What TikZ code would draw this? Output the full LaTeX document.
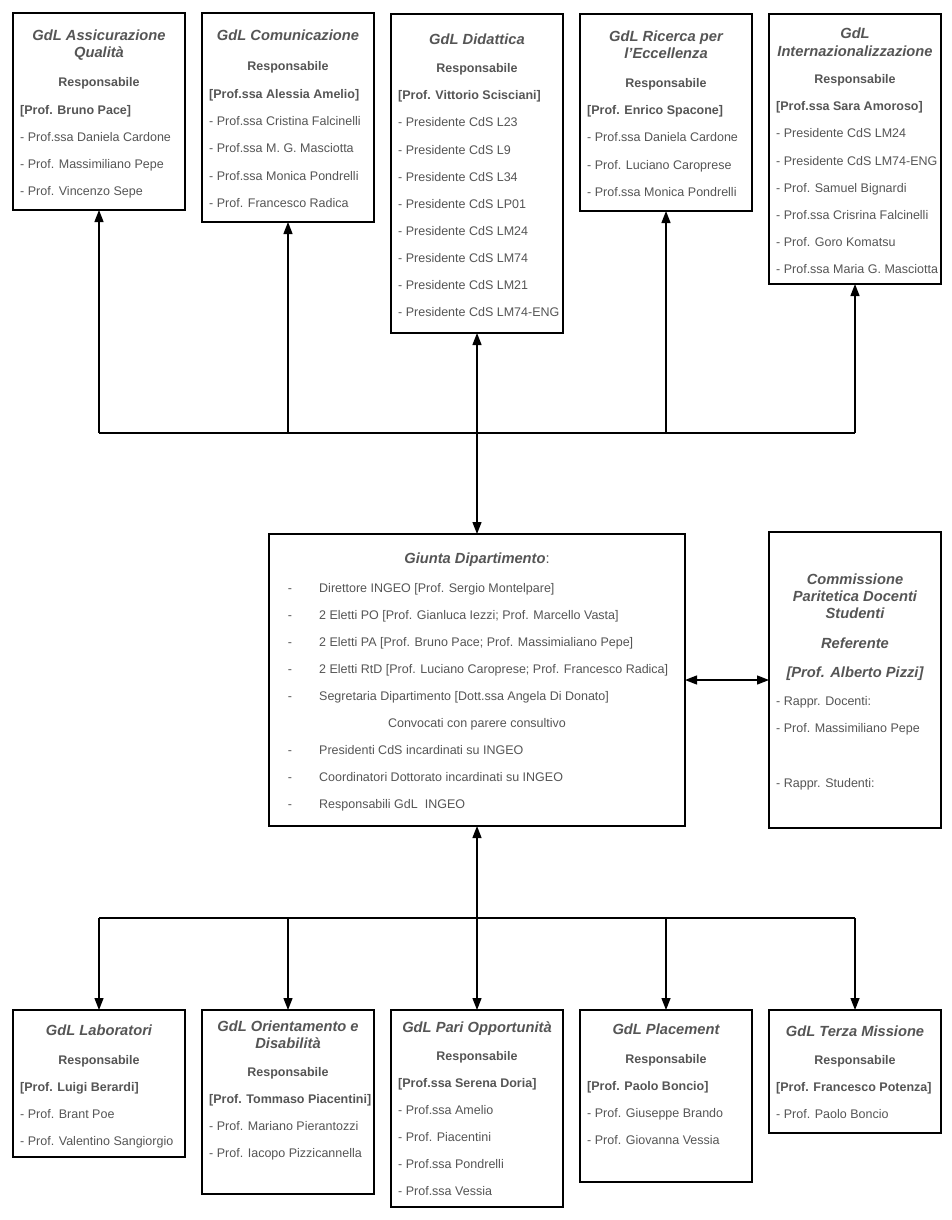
\documentclass[tikz,border=0pt]{standalone}
\usepackage{fontspec}
\setmainfont{Liberation Sans}
\usetikzlibrary{arrows.meta}
\definecolor{txt}{RGB}{85,85,85}
\newcommand\gboxat[5]{\node[gbox,minimum width={#4-#2},minimum height={#5-#3}] (#1) at ({(#2+#4)/2},{(#3+#5)/2}) {};}
\begin{document}
\begin{tikzpicture}[x=1pt,y=-1pt,
 gbox/.style={draw=black,line width=1.3pt,inner sep=0pt,outer sep=0pt},
 itm/.style={anchor=base west,inner sep=0pt,text=txt,font=\fontsize{12.5}{15}\selectfont},
 brk/.style={anchor=base west,inner sep=0pt,text=txt,font=\fontsize{12.5}{15}\selectfont\bfseries},
 rsp/.style={anchor=base,inner sep=0pt,text=txt,font=\fontsize{12.5}{15}\selectfont\bfseries},
 ttl/.style={anchor=base,inner sep=0pt,text=txt,font=\fontsize{14.7}{17}\selectfont\bfseries\itshape},
 conn/.style={line width=1.3pt,draw=black},
 arr/.style={conn,-{Triangle[length=12pt,width=9pt]}},
 darr/.style={conn,{Triangle[length=12pt,width=9pt]}-{Triangle[length=12pt,width=9pt]}},
]
\useasboundingbox (0,0) rectangle (952,1220);
\fill[white] (0,0) rectangle (952,1220);

% ---------- boxes ----------
\gboxat{b1}{13}{13}{185}{210}
\gboxat{b2}{202}{13}{374}{222}
\gboxat{b3}{391}{14}{563}{333}
\gboxat{b4}{580}{14}{752}{211}
\gboxat{b5}{769}{14}{941}{284}
\gboxat{g}{269}{534}{685}{826}
\gboxat{c}{769}{532}{941}{828}
\gboxat{l1}{13}{1010}{185}{1157}
\gboxat{l2}{202}{1010}{374}{1194}
\gboxat{l3}{391}{1010}{563}{1207}
\gboxat{l4}{580}{1010}{752}{1182}
\gboxat{l5}{769}{1010}{941}{1133}

% ---------- box 1 ----------
\node[ttl] (b1t1) at (99,41) {GdL Assicurazione};
\node[ttl] (b1t2) at (99,58) {Qualità};
\node[rsp] (b1r) at (99,87) {Responsabile};
\node[brk] (b1p) at (20,114) {[Prof. Bruno Pace]};
\node[itm] (b1i1) at (20,141) {- Prof.ssa Daniela Cardone};
\node[itm] (b1i2) at (20,168) {- Prof. Massimiliano Pepe};
\node[itm] (b1i3) at (20,195) {- Prof. Vincenzo Sepe};

% ---------- box 2 ----------
\node[ttl] (b2t1) at (288,41) {GdL Comunicazione};
\node[rsp] (b2r) at (288,71) {Responsabile};
\node[brk] (b2p) at (209,99) {[Prof.ssa Alessia Amelio]};
\node[itm] (b2i1) at (209,126) {- Prof.ssa Cristina Falcinelli};
\node[itm] (b2i2) at (209,153) {- Prof.ssa M. G. Masciotta};
\node[itm] (b2i3) at (209,180) {- Prof.ssa Monica Pondrelli};
\node[itm] (b2i4) at (209,207) {- Prof. Francesco Radica};

% ---------- box 3 ----------
\node[ttl] (b3t1) at (477,45) {GdL Didattica};
\node[rsp] (b3r) at (477,73) {Responsabile};
\node[brk] (b3p) at (398,100) {[Prof. Vittorio Scisciani]};
\node[itm] (b3i1) at (398,127) {- Presidente CdS L23};
\node[itm] (b3i2) at (398,154) {- Presidente CdS L9};
\node[itm] (b3i3) at (398,181) {- Presidente CdS L34};
\node[itm] (b3i4) at (398,208) {- Presidente CdS LP01};
\node[itm] (b3i5) at (398,235) {- Presidente CdS LM24};
\node[itm] (b3i6) at (398,262) {- Presidente CdS LM74};
\node[itm] (b3i7) at (398,289) {- Presidente CdS LM21};
\node[itm] (b3i8) at (398,316) {- Presidente CdS LM74-ENG};

% ---------- box 4 ----------
\node[ttl] (b4t1) at (666,42) {GdL Ricerca per};
\node[ttl] (b4t2) at (666,59) {l’Eccellenza};
\node[rsp] (b4r) at (666,88) {Responsabile};
\node[brk] (b4p) at (587,115) {[Prof. Enrico Spacone]};
\node[itm] (b4i1) at (587,142) {- Prof.ssa Daniela Cardone};
\node[itm] (b4i2) at (587,169) {- Prof. Luciano Caroprese};
\node[itm] (b4i3) at (587,196) {- Prof.ssa Monica Pondrelli};

% ---------- box 5 ----------
\node[ttl] (b5t1) at (855,39) {GdL};
\node[ttl] (b5t2) at (855,57) {Internazionalizzazione};
\node[rsp] (b5r) at (855,84) {Responsabile};
\node[brk] (b5p) at (776,111) {[Prof.ssa Sara Amoroso]};
\node[itm] (b5i1) at (776,138) {- Presidente CdS LM24};
\node[itm] (b5i2) at (776,165) {- Presidente CdS LM74-ENG};
\node[itm] (b5i3) at (776,192) {- Prof. Samuel Bignardi};
\node[itm] (b5i4) at (776,219) {- Prof.ssa Crisrina Falcinelli};
\node[itm] (b5i5) at (776,246) {- Prof. Goro Komatsu};
\node[itm] (b5i6) at (776,273) {- Prof.ssa Maria G. Masciotta};

% ---------- Giunta ----------
\node[anchor=base,inner sep=0pt,text=txt,font=\fontsize{14.7}{17}\selectfont] (gt) at (477,563) {\textbf{\textit{Giunta Dipartimento}}:};
\node[itm,anchor=base] (gd1) at (290,592) {-};
\node[itm] (gi1) at (319,592) {Direttore INGEO [Prof. Sergio Montelpare]};
\node[itm,anchor=base] (gd2) at (290,619) {-};
\node[itm] (gi2) at (319,619) {2 Eletti PO [Prof. Gianluca Iezzi; Prof. Marcello Vasta]};
\node[itm,anchor=base] (gd3) at (290,646) {-};
\node[itm] (gi3) at (319,646) {2 Eletti PA [Prof. Bruno Pace; Prof. Massimialiano Pepe]};
\node[itm,anchor=base] (gd4) at (290,673) {-};
\node[itm] (gi4) at (319,673) {2 Eletti RtD [Prof. Luciano Caroprese; Prof. Francesco Radica]};
\node[itm,anchor=base] (gd5) at (290,700) {-};
\node[itm] (gi5) at (319,700) {Segretaria Dipartimento [Dott.ssa Angela Di Donato]};
\node[itm,anchor=base] (gcv) at (477,727) {Convocati con parere consultivo};
\node[itm,anchor=base] (gd6) at (290,754) {-};
\node[itm] (gi6) at (319,754) {Presidenti CdS incardinati su INGEO};
\node[itm,anchor=base] (gd7) at (290,781) {-};
\node[itm] (gi7) at (319,781) {Coordinatori Dottorato incardinati su INGEO};
\node[itm,anchor=base] (gd8) at (290,808) {-};
\node[itm] (gi8) at (319,808) {Responsabili GdL\ \ INGEO};

% ---------- Commissione ----------
\node[ttl] (ct1) at (855,584) {Commissione};
\node[ttl] (ct2) at (855,601) {Paritetica Docenti};
\node[ttl] (ct3) at (855,618) {Studenti};
\node[ttl] (cr) at (855,648) {Referente};
\node[ttl] (cp) at (855,677) {[Prof. Alberto Pizzi]};
\node[itm] (ci1) at (776,705) {- Rappr. Docenti:};
\node[itm] (ci2) at (776,732) {- Prof. Massimiliano Pepe};
\node[itm] (ci3) at (776,787) {- Rappr. Studenti:};

% ---------- bottom 1 ----------
\node[ttl] (l1t1) at (99,1035) {GdL Laboratori};
\node[rsp] (l1r) at (99,1064) {Responsabile};
\node[brk] (l1p) at (20,1091) {[Prof. Luigi Berardi]};
\node[itm] (l1i1) at (20,1118) {- Prof. Brant Poe};
\node[itm] (l1i2) at (20,1145) {- Prof. Valentino Sangiorgio};

% ---------- bottom 2 ----------
\node[ttl] (l2t1) at (288,1031) {GdL Orientamento e};
\node[ttl] (l2t2) at (288,1048) {Disabilità};
\node[rsp] (l2r) at (288,1076) {Responsabile};
\node[brk] (l2p) at (209,1103) {[Prof. Tommaso Piacentini]};
\node[itm] (l2i1) at (209,1130) {- Prof. Mariano Pierantozzi};
\node[itm] (l2i2) at (209,1157) {- Prof. Iacopo Pizzicannella};

% ---------- bottom 3 ----------
\node[ttl] (l3t1) at (477,1032) {GdL Pari Opportunità};
\node[rsp] (l3r) at (477,1060) {Responsabile};
\node[brk] (l3p) at (398,1087) {[Prof.ssa Serena Doria]};
\node[itm] (l3i1) at (398,1114) {- Prof.ssa Amelio};
\node[itm] (l3i2) at (398,1141) {- Prof. Piacentini};
\node[itm] (l3i3) at (398,1168) {- Prof.ssa Pondrelli};
\node[itm] (l3i4) at (398,1195) {- Prof.ssa Vessia};

% ---------- bottom 4 ----------
\node[ttl] (l4t1) at (666,1034) {GdL Placement};
\node[rsp] (l4r) at (666,1063) {Responsabile};
\node[brk] (l4p) at (587,1090) {[Prof. Paolo Boncio]};
\node[itm] (l4i1) at (587,1117) {- Prof. Giuseppe Brando};
\node[itm] (l4i2) at (587,1144) {- Prof. Giovanna Vessia};

% ---------- bottom 5 ----------
\node[ttl] (l5t1) at (855,1036) {GdL Terza Missione};
\node[rsp] (l5r) at (855,1064) {Responsabile};
\node[brk] (l5p) at (776,1091) {[Prof. Francesco Potenza]};
\node[itm] (l5i1) at (776,1118) {- Prof. Paolo Boncio};

% ---------- connectors ----------
\coordinate (j1) at (99,433);
\coordinate (j2) at (288,433);
\coordinate (j3) at (477,433);
\coordinate (j4) at (666,433);
\coordinate (j5) at (855,433);
\draw[conn] (j1) -- (j5);
\draw[arr] (j1) -- (b1.south);
\draw[arr] (j2) -- (b2.south);
\draw[arr] (j4) -- (b4.south);
\draw[arr] (j5) -- (b5.south);
\draw[darr] (g.north) -- (b3.south);

\coordinate (k1) at (99,918);
\coordinate (k2) at (288,918);
\coordinate (k3) at (477,918);
\coordinate (k4) at (666,918);
\coordinate (k5) at (855,918);
\draw[conn] (k1) -- (k5);
\draw[arr] (k1) -- (l1.north);
\draw[arr] (k2) -- (l2.north);
\draw[arr] (k4) -- (l4.north);
\draw[arr] (k5) -- (l5.north);
\draw[darr] (g.south) -- (l3.north);

\draw[darr] (g.east) -- (c.west);
\end{tikzpicture}
\end{document}
